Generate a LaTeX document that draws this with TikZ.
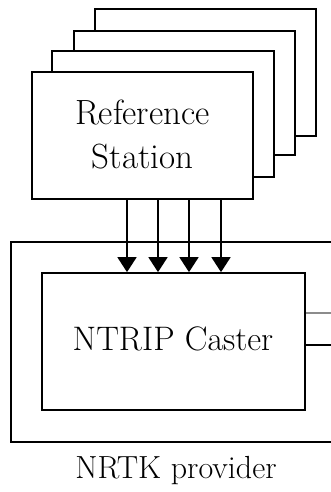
\documentclass[tikz,border=0pt]{standalone}
\usetikzlibrary{arrows.meta}
\begin{document}
\begin{tikzpicture}[x=1pt,y=-1pt,
  box/.style={draw=black,fill=white,line width=1.7pt},
  conn/.style={line width=1.7pt,-{Triangle[width=19pt,length=15pt]}},
  lbl/.style={inner sep=0pt,align=center}]
\useasboundingbox (0,0) rectangle (331,492);
% stacked reference station boxes
\draw[box] (95,9) rectangle (316,136);
\draw[box] (74,31) rectangle (295,155);
\draw[box] (52,51) rectangle (274,177);
\node[box,minimum width=221pt,minimum height=127pt,inner sep=0pt] (ref) at (142.5,135.5) {};
\node[lbl,font=\fontsize{35}{44}\selectfont] (reft) at (142.5,134) {Reference\\Station};
% NRTK provider outer frame (open on the right)
\coordinate (ptr) at (331,242);
\coordinate (pbr) at (331,442);
\draw[line width=1.7pt] (ptr) -- (11,242) -- (11,442) -- (pbr);
% caster
\node[box,minimum width=263pt,minimum height=137pt,inner sep=0pt] (caster) at (173.5,341.5) {};
\node[lbl,font=\fontsize{34}{40}\selectfont] (castt) at (173,339) {NTRIP Caster};
% lines to the right
\coordinate (r1) at (331,313);
\coordinate (r2) at (331,345);
\draw[line width=1.2pt,black!45] (caster.east |- r1) -- (r1);
\draw[line width=1.7pt] (caster.east |- r2) -- (r2);
% arrows
\foreach \i/\x in {1/127,2/158,3/189,4/221}{
  \coordinate (a\i) at (\x,0);
  \draw[conn] (ref.south -| a\i) -- (caster.north -| a\i);
}
\node[lbl,font=\fontsize{32}{38}\selectfont] (prov) at (176,471) {NRTK provider};
\end{tikzpicture}
\end{document}
